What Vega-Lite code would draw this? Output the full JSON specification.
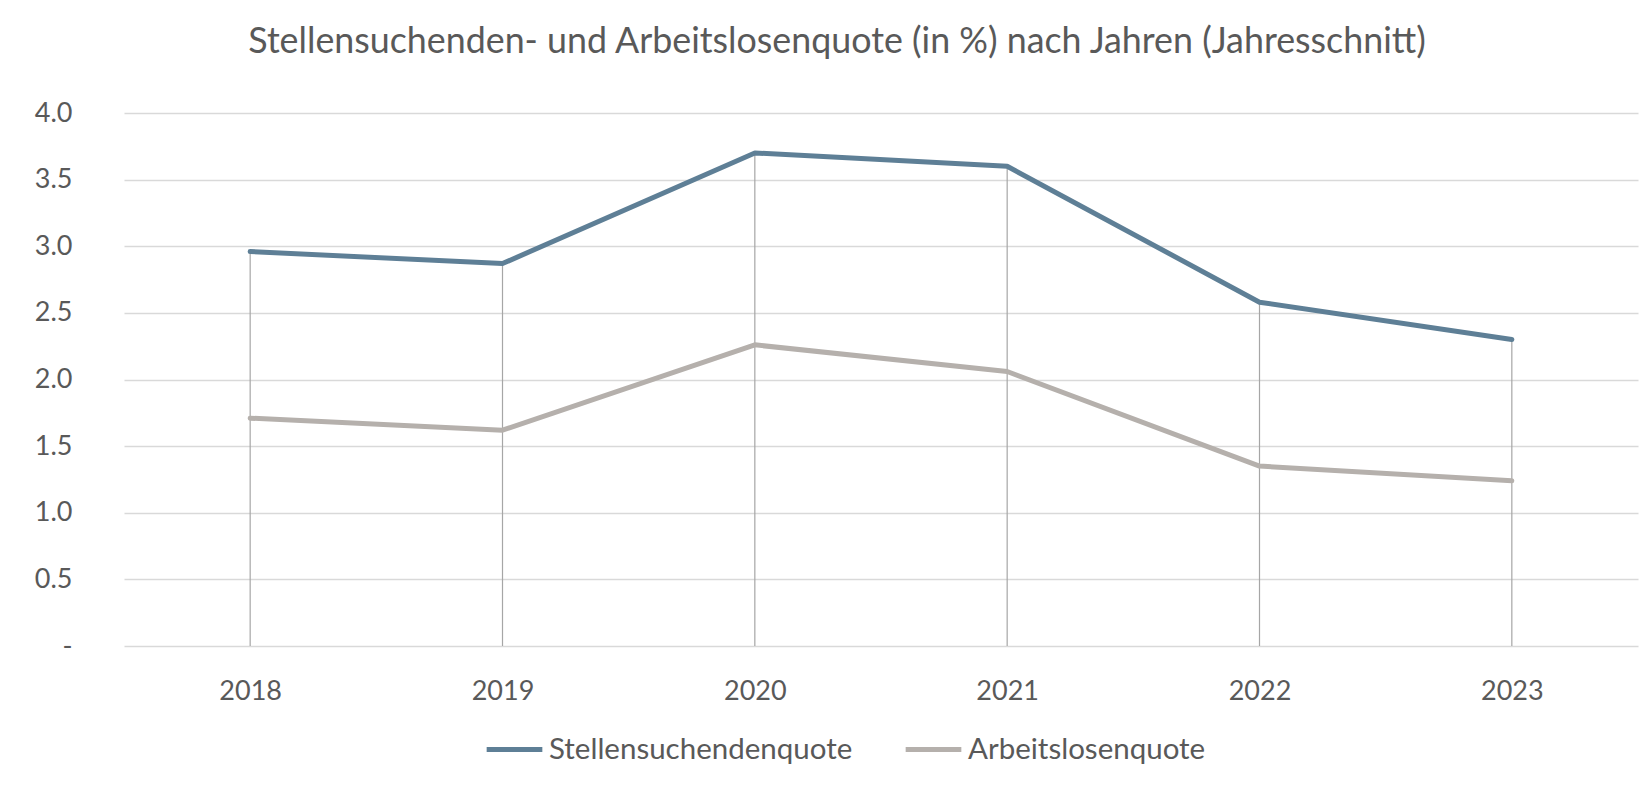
{
  "$schema": "https://vega.github.io/schema/vega-lite/v6.json",
  "autosize": {"type": "none"},
  "width": 1514,
  "height": 533,
  "padding": {"left": 124, "top": 113, "right": 14, "bottom": 140},
  "background": "white",
  "config": {
    "font": "Lato",
    "view": {"stroke": null},
    "axis": {"labelColor": "#595959", "labelFont": "Lato", "labelFontSize": 27, "domain": false, "ticks": false, "titleColor": "#595959"},
    "legend": {"labelColor": "#595959", "labelFont": "Lato", "labelFontSize": 29.5, "labelLimit": 500}
  },
  "title": {
    "text": "Stellensuchenden- und Arbeitslosenquote (in %) nach Jahren (Jahresschnitt)",
    "font": "Lato",
    "fontSize": 35.8,
    "fontWeight": "normal",
    "color": "#595959",
    "anchor": "middle",
    "dx": -44,
    "offset": 38
  },
  "data": {
    "values": [
      {"Jahr": "2018", "Serie": "Stellensuchendenquote", "Wert": 2.96},
      {"Jahr": "2019", "Serie": "Stellensuchendenquote", "Wert": 2.87},
      {"Jahr": "2020", "Serie": "Stellensuchendenquote", "Wert": 3.70},
      {"Jahr": "2021", "Serie": "Stellensuchendenquote", "Wert": 3.60},
      {"Jahr": "2022", "Serie": "Stellensuchendenquote", "Wert": 2.58},
      {"Jahr": "2023", "Serie": "Stellensuchendenquote", "Wert": 2.30},
      {"Jahr": "2018", "Serie": "Arbeitslosenquote", "Wert": 1.71},
      {"Jahr": "2019", "Serie": "Arbeitslosenquote", "Wert": 1.62},
      {"Jahr": "2020", "Serie": "Arbeitslosenquote", "Wert": 2.26},
      {"Jahr": "2021", "Serie": "Arbeitslosenquote", "Wert": 2.06},
      {"Jahr": "2022", "Serie": "Arbeitslosenquote", "Wert": 1.35},
      {"Jahr": "2023", "Serie": "Arbeitslosenquote", "Wert": 1.24}
    ]
  },
  "encoding": {
    "x": {
      "field": "Jahr", "type": "ordinal",
      "scale": {"type": "point", "padding": 0.5},
      "axis": {"title": null, "labelAngle": 0, "labelPadding": 32, "grid": false}
    }
  },
  "layer": [
    {
      "transform": [{"filter": "datum.Serie == 'Stellensuchendenquote'"}],
      "mark": {"type": "rule", "color": "#a6a6a6", "strokeWidth": 1.2},
      "encoding": {
        "y": {
          "field": "Wert", "type": "quantitative",
          "scale": {"domain": [0, 4], "nice": false},
          "axis": {
            "title": null,
            "values": [0, 0.5, 1, 1.5, 2, 2.5, 3, 3.5, 4],
            "labelExpr": "datum.value == 0 ? '-' : format(datum.value, '.1f')",
            "labelPadding": 52,
            "grid": true, "gridColor": "#d9d9d9", "gridWidth": 1.5
          }
        },
        "y2": {"datum": 0}
      }
    },
    {
      "mark": {"type": "line", "strokeWidth": 5, "strokeCap": "round", "strokeJoin": "round"},
      "encoding": {
        "y": {"field": "Wert", "type": "quantitative"},
        "color": {
          "field": "Serie", "type": "nominal",
          "scale": {"domain": ["Stellensuchendenquote", "Arbeitslosenquote"], "range": ["#5e7f96", "#b5b0ac"]},
          "legend": {
            "title": null,
            "orient": "none",
            "direction": "horizontal",
            "legendX": 360,
            "legendY": 606,
            "symbolType": "stroke",
            "symbolStrokeWidth": 5,
            "symbolSize": 3100,
            "labelOffset": 4,
            "columnPadding": 42
          }
        }
      }
    }
  ]
}
